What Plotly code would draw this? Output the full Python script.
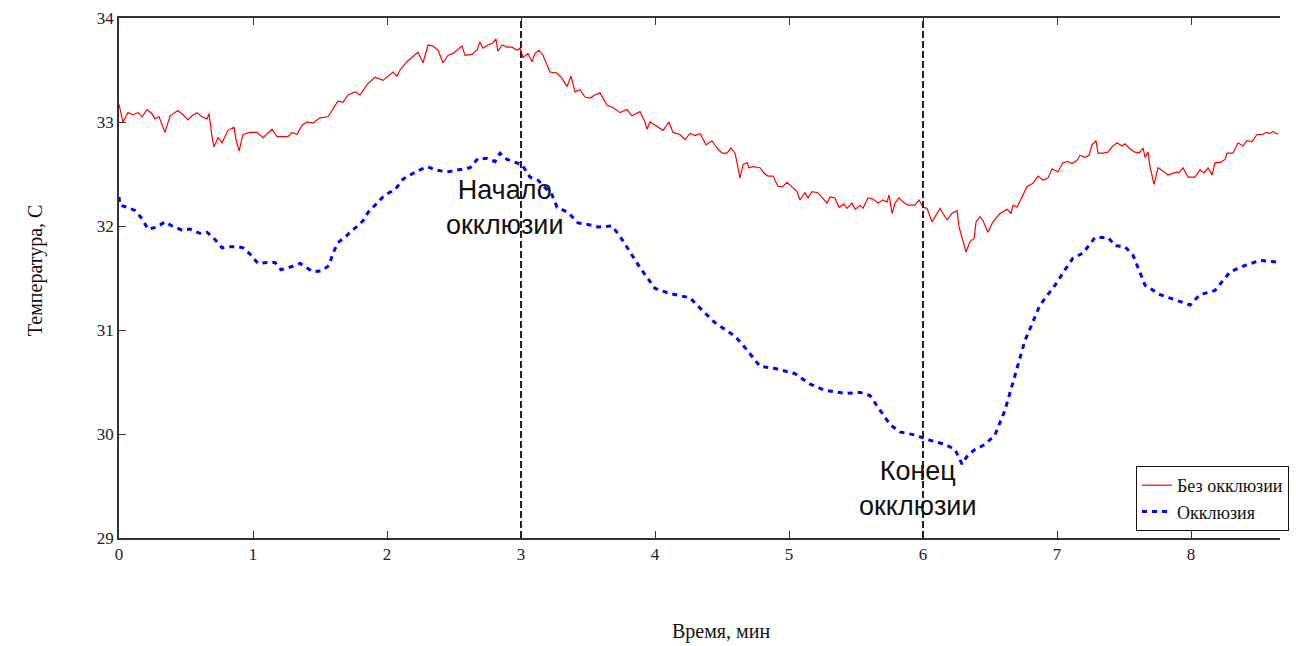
import plotly.graph_objects as go

# ---- data (time in minutes, temperature in C) ----
red_t = [0.0, 0.030, 0.067, 0.104, 0.142, 0.172, 0.209, 0.246, 0.269, 0.299, 0.343, 0.381, 0.440, 0.478,
         0.515, 0.545, 0.582, 0.619, 0.657, 0.672, 0.694, 0.709, 0.739, 0.769, 0.813, 0.858, 0.873, 0.896,
         0.925, 0.978, 1.030, 1.075, 1.142, 1.179, 1.224, 1.261, 1.291, 1.328, 1.366, 1.403, 1.448, 1.500,
         1.560, 1.597, 1.634, 1.672, 1.709, 1.761, 1.799, 1.851, 1.910, 1.970, 2.045, 2.075, 2.097, 2.149,
         2.209, 2.231, 2.269, 2.306, 2.343, 2.381, 2.418, 2.455, 2.493, 2.530, 2.560, 2.582, 2.634, 2.672,
         2.694, 2.716, 2.754, 2.791, 2.813, 2.828, 2.858, 2.896, 2.933, 2.970, 2.993, 3.015, 3.052, 3.082,
         3.104, 3.134, 3.164, 3.194, 3.216, 3.269, 3.306, 3.343, 3.373, 3.403, 3.440, 3.478, 3.515, 3.552,
         3.590, 3.642, 3.687, 3.739, 3.791, 3.828, 3.866, 3.888, 3.925, 3.940, 3.963, 4.015, 4.060, 4.104,
         4.134, 4.187, 4.224, 4.261, 4.299, 4.336, 4.381, 4.425, 4.463, 4.500, 4.537, 4.567, 4.597, 4.612,
         4.634, 4.657, 4.687, 4.701, 4.731, 4.784, 4.813, 4.843, 4.881, 4.918, 4.955, 4.985, 5.022, 5.060,
         5.082, 5.119, 5.142, 5.172, 5.216, 5.254, 5.284, 5.306, 5.343, 5.373, 5.410, 5.433, 5.470, 5.493,
         5.530, 5.552, 5.590, 5.627, 5.664, 5.701, 5.731, 5.746, 5.769, 5.791, 5.821, 5.851, 5.888, 5.940,
         5.970, 6.000, 6.030, 6.067, 6.104, 6.127, 6.149, 6.179, 6.216, 6.254, 6.269, 6.299, 6.321, 6.351,
         6.381, 6.396, 6.425, 6.448, 6.485, 6.522, 6.575, 6.627, 6.657, 6.672, 6.701, 6.739, 6.776, 6.821,
         6.858, 6.896, 6.933, 6.963, 7.007, 7.045, 7.082, 7.112, 7.149, 7.172, 7.209, 7.239, 7.261, 7.291,
         7.306, 7.343, 7.381, 7.410, 7.448, 7.485, 7.507, 7.545, 7.582, 7.612, 7.642, 7.657, 7.679, 7.694,
         7.716, 7.724, 7.754, 7.791, 7.828, 7.866, 7.896, 7.910, 7.940, 7.978, 8.030, 8.067, 8.097, 8.127,
         8.157, 8.179, 8.216, 8.254, 8.269, 8.313, 8.351, 8.388, 8.418, 8.455, 8.493, 8.530, 8.567, 8.590,
         8.612, 8.649]
red_T = [33.17, 33.00, 33.09, 33.07, 33.09, 33.05, 33.12, 33.08, 33.03, 33.05, 32.90, 33.06, 33.11, 33.07,
         33.02, 33.06, 33.09, 33.05, 33.03, 33.08, 32.86, 32.76, 32.85, 32.80, 32.92, 32.95, 32.83, 32.72,
         32.88, 32.90, 32.90, 32.85, 32.93, 32.86, 32.86, 32.86, 32.90, 32.88, 32.97, 33.00, 32.99, 33.04,
         33.05, 33.12, 33.20, 33.19, 33.26, 33.29, 33.26, 33.36, 33.43, 33.40, 33.48, 33.44, 33.50, 33.58,
         33.64, 33.67, 33.57, 33.74, 33.73, 33.69, 33.57, 33.64, 33.66, 33.70, 33.73, 33.64, 33.65, 33.69,
         33.77, 33.71, 33.74, 33.76, 33.80, 33.68, 33.74, 33.72, 33.72, 33.69, 33.71, 33.62, 33.66, 33.58,
         33.66, 33.69, 33.64, 33.55, 33.48, 33.47, 33.42, 33.34, 33.44, 33.29, 33.31, 33.24, 33.23, 33.26,
         33.28, 33.16, 33.14, 33.09, 33.12, 33.06, 33.09, 33.10, 33.00, 32.93, 33.00, 32.96, 32.92, 33.00,
         32.90, 32.88, 32.83, 32.89, 32.87, 32.89, 32.78, 32.82, 32.75, 32.70, 32.70, 32.75, 32.70, 32.61,
         32.46, 32.59, 32.61, 32.56, 32.57, 32.56, 32.51, 32.48, 32.48, 32.38, 32.38, 32.42, 32.38, 32.33,
         32.25, 32.32, 32.27, 32.33, 32.32, 32.26, 32.22, 32.28, 32.27, 32.18, 32.21, 32.17, 32.22, 32.16,
         32.20, 32.17, 32.27, 32.26, 32.22, 32.25, 32.23, 32.30, 32.12, 32.22, 32.27, 32.23, 32.20, 32.20,
         32.25, 32.18, 32.17, 32.04, 32.12, 32.17, 32.12, 32.06, 32.12, 32.15, 31.99, 31.85, 31.75, 31.85,
         31.88, 32.04, 32.09, 32.05, 31.94, 32.04, 32.12, 32.16, 32.12, 32.20, 32.18, 32.28, 32.38, 32.41,
         32.48, 32.44, 32.46, 32.55, 32.52, 32.61, 32.62, 32.60, 32.63, 32.68, 32.66, 32.68, 32.78, 32.82,
         32.70, 32.70, 32.71, 32.76, 32.80, 32.77, 32.79, 32.74, 32.71, 32.70, 32.75, 32.66, 32.71, 32.57,
         32.44, 32.40, 32.56, 32.53, 32.49, 32.51, 32.52, 32.51, 32.56, 32.47, 32.47, 32.54, 32.51, 32.56,
         32.49, 32.61, 32.61, 32.64, 32.70, 32.70, 32.80, 32.77, 32.82, 32.81, 32.88, 32.88, 32.90, 32.89,
         32.91, 32.88]

blue_t = [0.0, 0.007, 0.060, 0.119, 0.172, 0.216, 0.284, 0.343, 0.396, 0.470, 0.530, 0.604, 0.657, 0.716,
          0.769, 0.813, 0.888, 0.925, 0.978, 1.037, 1.104, 1.164, 1.209, 1.291, 1.351, 1.403, 1.448, 1.515,
          1.567, 1.597, 1.634, 1.701, 1.761, 1.821, 1.858, 1.925, 1.985, 2.060, 2.119, 2.172, 2.246, 2.306,
          2.358, 2.448, 2.530, 2.619, 2.679, 2.746, 2.806, 2.843, 2.896, 2.955, 3.007, 3.067, 3.127, 3.231,
          3.269, 3.351, 3.425, 3.515, 3.575, 3.680, 3.739, 3.888, 4.000, 4.112, 4.261, 4.336, 4.448, 4.597,
          4.672, 4.784, 4.896, 5.045, 5.157, 5.269, 5.418, 5.530, 5.604, 5.679, 5.754, 5.828, 5.940, 6.052,
          6.164, 6.239, 6.291, 6.336, 6.388, 6.463, 6.537, 6.612, 6.687, 6.761, 6.873, 6.985, 7.060, 7.119,
          7.194, 7.231, 7.284, 7.343, 7.381, 7.433, 7.507, 7.567, 7.657, 7.769, 7.881, 7.993, 8.067, 8.179,
          8.291, 8.403, 8.515, 8.664]
blue_T = [32.28, 32.20, 32.18, 32.15, 32.07, 31.97, 31.99, 32.04, 32.00, 31.96, 31.97, 31.93, 31.94, 31.87,
          31.79, 31.80, 31.80, 31.79, 31.73, 31.64, 31.65, 31.65, 31.58, 31.61, 31.64, 31.60, 31.56, 31.57,
          31.62, 31.74, 31.84, 31.91, 31.98, 32.05, 32.13, 32.22, 32.30, 32.35, 32.45, 32.49, 32.54, 32.57,
          32.54, 32.52, 32.54, 32.56, 32.65, 32.65, 32.62, 32.70, 32.64, 32.61, 32.59, 32.47, 32.44, 32.30,
          32.18, 32.13, 32.03, 32.01, 31.99, 32.00, 31.90, 31.60, 31.40, 31.35, 31.31, 31.21, 31.07, 30.94,
          30.83, 30.65, 30.63, 30.58, 30.48, 30.42, 30.39, 30.40, 30.37, 30.23, 30.09, 30.02, 29.99, 29.94,
          29.90, 29.85, 29.71, 29.80, 29.85, 29.90, 29.99, 30.23, 30.57, 30.90, 31.24, 31.43, 31.58, 31.69,
          31.74, 31.80, 31.89, 31.89, 31.89, 31.81, 31.80, 31.72, 31.43, 31.34, 31.29, 31.24, 31.34, 31.38,
          31.56, 31.62, 31.67, 31.65]

event_t = [3, 6]
event_labels = ["Начало<br>окклюзии", "Конец<br>окклюзии"]
label_pos_t = [2.88, 5.96]
label_pos_T = [32.18, 29.48]

series_names = ["Без окклюзии", "Окклюзия"]
x_ticks = [0, 1, 2, 3, 4, 5, 6, 7, 8]
y_ticks = [29, 30, 31, 32, 33, 34]

serif = "Liberation Serif, Times New Roman, serif"
sans = "Liberation Sans, Arial, sans-serif"

fig = go.Figure()
fig.add_trace(go.Scatter(x=red_t, y=red_T, mode="lines", name=series_names[0],
                         line=dict(color="#ff0000", width=1.2)))
fig.add_trace(go.Scatter(x=blue_t, y=blue_T, mode="lines", name=series_names[1],
                         line=dict(color="#0000ff", width=3, dash="5px,5px")))

for t in event_t:
    fig.add_shape(type="line", x0=t, x1=t, y0=29, y1=34, xref="x", yref="y",
                  line=dict(color="#222", width=2, dash="7px,3px"))

for txt, xt, yt in zip(event_labels, label_pos_t, label_pos_T):
    fig.add_annotation(x=xt, y=yt, xref="x", yref="y", text=txt, showarrow=False,
                       font=dict(family=sans, size=27, color="#111"), align="center")

# axis titles
fig.add_annotation(x=(721 - 119) / 1161, y=-0.18, xref="paper", yref="paper", yanchor="middle",
                   text="Время, мин", showarrow=False, font=dict(family=serif, size=20, color="#111"))
fig.add_annotation(x=-0.084, y=0.515, xref="paper", yref="paper", textangle=-90,
                   text="Температура, С", showarrow=False, font=dict(family=serif, size=20, color="#111"))

fig.update_xaxes(range=[0, 8.664], tickvals=x_ticks, ticks="inside", ticklen=7, tickcolor="#333",
                 showline=True, linecolor="#333", linewidth=1.5, mirror="ticks", showgrid=False,
                 zeroline=False, tickfont=dict(family=serif, size=17, color="#222"))
fig.update_yaxes(range=[29, 34], tickvals=y_ticks, ticks="inside", ticklen=7, tickcolor="#333",
                 showline=True, linecolor="#333", linewidth=1.5, mirror=False, showgrid=False,
                 zeroline=False, tickfont=dict(family=serif, size=17, color="#222"))

fig.update_layout(
    width=1296, height=646,
    margin=dict(l=119, r=16, t=18, b=108, autoexpand=False),
    paper_bgcolor="white", plot_bgcolor="white",
    legend=dict(x=(1136 - 119) / 1161, y=(538 - 466) / 520, xanchor="left", yanchor="top",
                bgcolor="white", bordercolor="#111", borderwidth=1, tracegroupgap=0,
                font=dict(family=serif, size=18, color="#111")),
)

fig.write_html("out.html")
